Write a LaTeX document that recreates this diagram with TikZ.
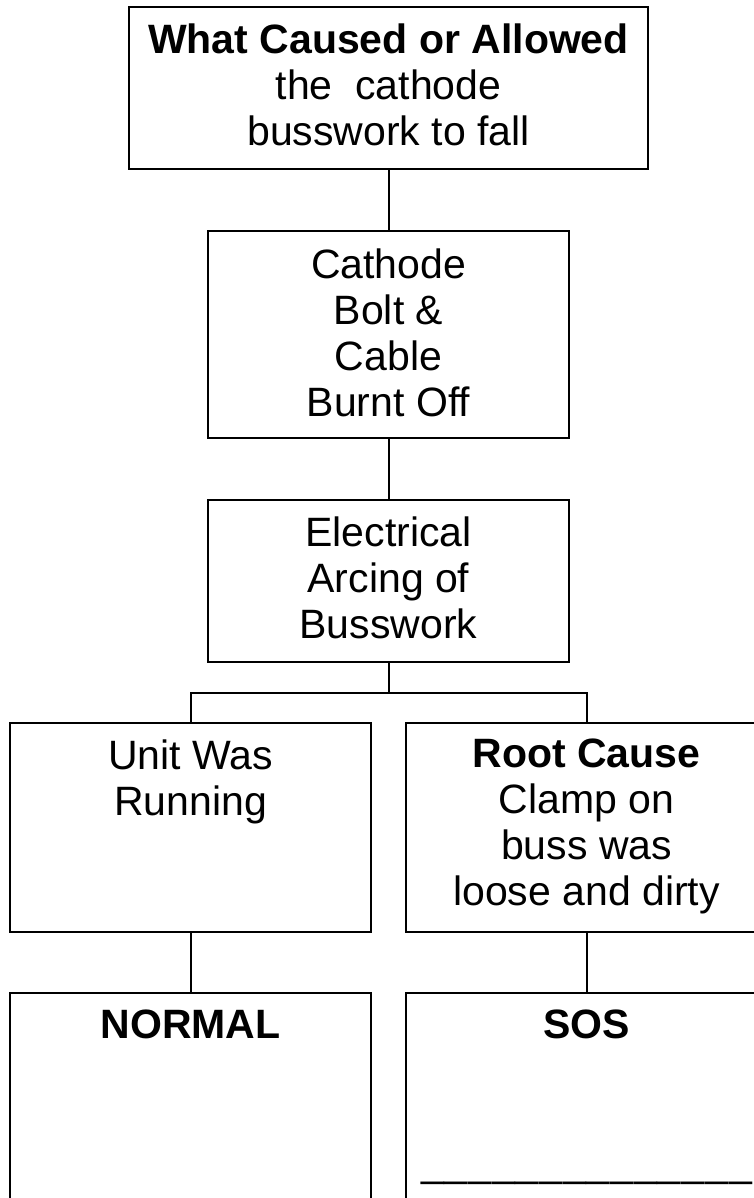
\documentclass[tikz,border=0pt]{standalone}
\usepackage{fontspec}
\setmainfont{Liberation Sans}
\newcommand\myusc{\_\kern0.9pt}
\begin{document}
\begin{tikzpicture}[x=1pt,y=-1pt,
  box/.style={draw, line width=2.6pt, inner sep=0pt, minimum width=361pt},
  txt/.style={align=center, anchor=north, inner sep=0pt, font=\fontsize{41}{46}\selectfont},
  link/.style={line width=2pt}]
\useasboundingbox (0,0) rectangle (754,1198);
\clip (0,0) rectangle (754,1198);
% boxes
\node[box, minimum width=519pt, minimum height=162pt] (top) at (388.5,88) {};
\node[box, minimum height=207pt] (cath) at (388.5,334.5) {};
\node[box, minimum height=162pt] (elec) at (388.5,581) {};
\node[box, minimum height=209pt] (unit) at (190.5,827.5) {};
\node[box, minimum height=209pt] (root) at (586.5,827.5) {};
\node[box, minimum height=307pt] (normal) at (190.5,1146.5) {};
\node[box, minimum height=307pt] (sos) at (586.5,1146.5) {};
% texts
\node[txt] (ttop) at ([yshift=-17.6pt]top.north) {\textbf{What Caused or Allowed}\\the~~cathode\\busswork to fall};
\node[txt] (tcath) at ([yshift=-18.6pt]cath.north) {Cathode\\Bolt \&\\Cable\\Burnt Off};
\node[txt] (telec) at ([yshift=-17.6pt]elec.north) {Electrical\\Arcing of\\Busswork};
\node[txt] (tunit) at ([yshift=-17.6pt]unit.north) {Unit Was\\Running};
\node[txt] (troot) at ([yshift=-17.2pt]root.north) {\textbf{Root Cause}\\Clamp on\\buss was\\loose and dirty};
\node[txt] (tnormal) at ([yshift=-17.6pt]normal.north) {\textbf{NORMAL}};
\node[txt] (tsos) at ([yshift=-17.6pt]sos.north) {\textbf{SOS}\\[92pt]\myusc\myusc\myusc\myusc\myusc\myusc\myusc\myusc\myusc\myusc\myusc\myusc\myusc\_};
% connectors
\draw[link] (top.south) -- (cath.north);
\draw[link] (cath.south) -- (elec.north);
\draw[link] (elec.south) -- ++(0,30) coordinate (jm);
\draw[link] (unit.north) |- (jm) -| (root.north);
\draw[link] (unit.south) -- (normal.north);
\draw[link] (root.south) -- (sos.north);
\end{tikzpicture}
\end{document}
